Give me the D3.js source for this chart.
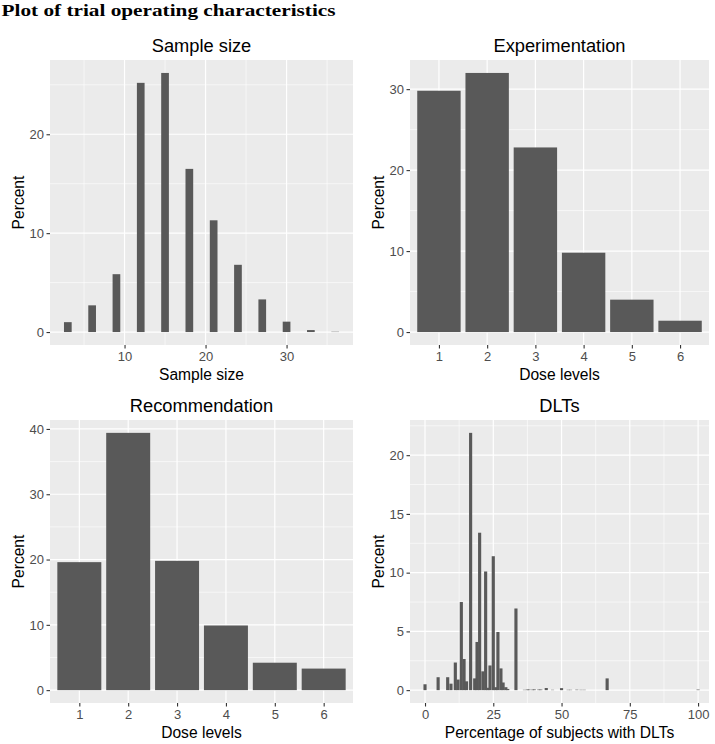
<!DOCTYPE html>
<html>
<head>
<meta charset="utf-8">
<script src="https://cdn.jsdelivr.net/npm/d3@7"></script>
<style>
  body { margin: 0; background: #fff; }
  svg { display: block; font-family: "Liberation Sans", Arial, sans-serif; }
</style>
</head>
<body>
<div id="chart"></div>
<script>
// ---------------- data ----------------
var sampleSizes   = [3, 6, 9, 12, 15, 18, 21, 24, 27, 30, 33, 36];
var samplePercent = [1.0, 2.7, 5.85, 25.2, 26.2, 16.5, 11.3, 6.8, 3.3, 1.05, 0.2, 0.03];

var doseLevels = [1, 2, 3, 4, 5, 6];
var experimentPercent = [29.8, 32.0, 22.8, 9.8, 4.0, 1.4];
var recommendPercent  = [19.6, 39.4, 19.8, 9.9, 4.2, 3.3];

// percentage of subjects with DLTs (bar centres) and percent of trials
var dltRate    = [0, 4.8, 8.3, 9.5, 11.1, 12.1, 13.3, 14.3, 15.2, 16.7, 18.2, 19.05, 20, 21.2, 22.2, 23.0, 23.8, 25, 25.9, 26.7, 27.8, 28.6, 29.6, 30.3,
                  33.3, 36.4, 37.5, 38.1, 39.4, 40, 41.7, 42.4, 44.4, 46.7, 50, 52.4, 53.3, 55.6, 57.1, 58.3, 66.7, 100];
var dltPercent = [0.5, 1.1, 1.1, 0.55, 2.35, 0.9, 7.5, 2.65, 0.75, 21.9, 1.0, 4.1, 13.4, 1.6, 10.1, 0.2, 2.1, 11.4, 0.25, 4.95, 1.85, 0.65, 0.25, 0.1,
                  6.95, 0.03, 0.05, 0.05, 0.04, 0.06, 0.05, 0.05, 0.18, 0.03, 0.17, 0.03, 0.03, 0.04, 0.03, 0.03, 1.0, 0.05];

var mainTitle = "Plot of trial operating characteristics";

// ---------------- svg ----------------
var W = 715, H = 744;
var svg = d3.select("#chart").append("svg")
    .attr("width", W)
    .attr("height", H);

svg.append("text")
    .attr("x", 1.5)
    .attr("y", 15.5)
    .attr("font-family", "'Liberation Serif', 'DejaVu Serif', serif")
    .attr("font-weight", "bold")
    .attr("font-size", 16.5)
    .attr("textLength", 334)
    .attr("lengthAdjust", "spacingAndGlyphs")
    .text(mainTitle);

// midpoints between consecutive major ticks, inside the domain
function minorBreaks(majors, dom) {
    var out = [];
    var step = majors[1] - majors[0];
    var all = [majors[0] - step].concat(majors).concat([majors[majors.length - 1] + step]);
    for (var i = 0; i < all.length - 1; i++) {
        var m = (all[i] + all[i + 1]) / 2;
        if (m > dom[0] && m < dom[1]) out.push(m);
    }
    return out;
}

function panel(p) {
    var ymax = d3.max(p.values);
    var x = d3.scaleLinear().domain(p.xDomain).range([p.left, p.right]);
    var y = d3.scaleLinear().domain([-0.05 * ymax, 1.05 * ymax]).range([p.bottom, p.top]);

    var g = svg.append("g");

    // background
    g.append("rect")
        .attr("x", p.left).attr("y", p.top)
        .attr("width", p.right - p.left).attr("height", p.bottom - p.top)
        .attr("fill", "#ebebeb");

    // grid
    var yMinor = minorBreaks(p.yTicks, y.domain());
    g.selectAll(".ymin").data(yMinor).enter().append("line")
        .attr("x1", p.left).attr("x2", p.right)
        .attr("y1", d => y(d)).attr("y2", d => y(d))
        .attr("stroke", "#fff").attr("stroke-width", 0.6);
    if (p.xMinor) {
        var xMinor = minorBreaks(p.xTicks, x.domain());
        g.selectAll(".xmin").data(xMinor).enter().append("line")
            .attr("y1", p.top).attr("y2", p.bottom)
            .attr("x1", d => x(d)).attr("x2", d => x(d))
            .attr("stroke", "#fff").attr("stroke-width", 0.6);
    }
    g.selectAll(".ymaj").data(p.yTicks).enter().append("line")
        .attr("x1", p.left).attr("x2", p.right)
        .attr("y1", d => y(d)).attr("y2", d => y(d))
        .attr("stroke", "#fff").attr("stroke-width", 1.2);
    g.selectAll(".xmaj").data(p.xTicks).enter().append("line")
        .attr("y1", p.top).attr("y2", p.bottom)
        .attr("x1", d => x(d)).attr("x2", d => x(d))
        .attr("stroke", "#fff").attr("stroke-width", 1.2);

    // bars
    g.selectAll(".bar").data(p.cats).enter().append("rect")
        .attr("x", d => x(d - p.barWidth / 2))
        .attr("width", d => x(d + p.barWidth / 2) - x(d - p.barWidth / 2))
        .attr("y", (d, i) => y(p.values[i]))
        .attr("height", (d, i) => y(0) - y(p.values[i]))
        .attr("fill", "#595959");

    // axes
    var xa = g.append("g")
        .attr("transform", "translate(0," + p.bottom + ")")
        .call(d3.axisBottom(x).tickValues(p.xTicks).tickSize(3.5).tickPadding(3.5).tickFormat(d3.format("d")));
    var ya = g.append("g")
        .attr("transform", "translate(" + p.left + ",0)")
        .call(d3.axisLeft(y).tickValues(p.yTicks).tickSize(3.5).tickPadding(2.5).tickFormat(d3.format("d")));
    [xa, ya].forEach(function(a) {
        a.select(".domain").remove();
        a.selectAll(".tick line").attr("stroke", "#333").attr("stroke-width", 1.1);
        a.selectAll(".tick text")
            .attr("fill", "#4d4d4d")
            .attr("font-size", 13)
            .attr("font-family", "'Liberation Sans', Arial, sans-serif");
    });

    // titles
    var cx = (p.left + p.right) / 2;
    g.append("text")
        .attr("x", cx).attr("y", p.top - 8.5)
        .attr("text-anchor", "middle")
        .attr("font-size", 18.3)
        .text(p.title);
    g.append("text")
        .attr("x", cx).attr("y", p.bottom + 35)
        .attr("text-anchor", "middle")
        .attr("font-size", 15.6)
        .text(p.xTitle);
    g.append("text")
        .attr("transform", "translate(" + (p.left - 26.5) + "," + ((p.top + p.bottom) / 2) + ") rotate(-90)")
        .attr("text-anchor", "middle")
        .attr("font-size", 15.6)
        .text("Percent");
}

////////////////------ SAMPLE SIZE ------////////////////
panel({
    left: 50, right: 353, top: 60, bottom: 345,
    cats: sampleSizes, values: samplePercent, barWidth: 0.95,
    xDomain: [0.8, 38.2], xTicks: [10, 20, 30], xMinor: true,
    yTicks: [0, 10, 20],
    title: "Sample size", xTitle: "Sample size"
});

////////////////------ EXPERIMENTATION ------////////////////
panel({
    left: 410, right: 709, top: 60, bottom: 345,
    cats: doseLevels, values: experimentPercent, barWidth: 0.9,
    xDomain: [0.4, 6.6], xTicks: doseLevels, xMinor: false,
    yTicks: [0, 10, 20, 30],
    title: "Experimentation", xTitle: "Dose levels"
});

////////////////------ RECOMMENDATION ------////////////////
panel({
    left: 50, right: 353, top: 420, bottom: 703,
    cats: doseLevels, values: recommendPercent, barWidth: 0.9,
    xDomain: [0.4, 6.6], xTicks: doseLevels, xMinor: false,
    yTicks: [0, 10, 20, 30, 40],
    title: "Recommendation", xTitle: "Dose levels"
});

////////////////------ DLTs ------////////////////
panel({
    left: 410, right: 709, top: 420, bottom: 703,
    cats: dltRate, values: dltPercent, barWidth: 1.15,
    xDomain: [-5.5, 104], xTicks: [0, 25, 50, 75, 100], xMinor: true,
    yTicks: [0, 5, 10, 15, 20],
    title: "DLTs", xTitle: "Percentage of subjects with DLTs"
});
</script>
</body>
</html>
